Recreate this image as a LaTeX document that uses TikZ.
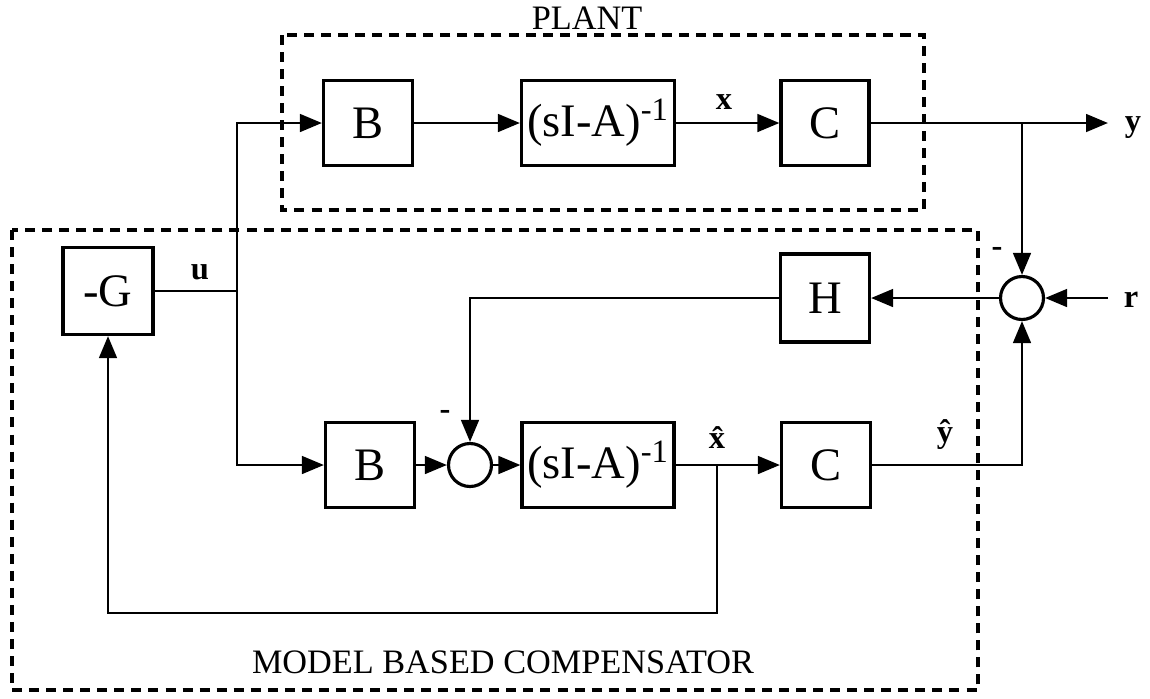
\documentclass[tikz,border=0pt]{standalone}
\usepackage{fontspec}
\setmainfont{Liberation Serif}
\usetikzlibrary{arrows.meta}

\begin{document}
\begin{tikzpicture}[x=0.02cm, y=-0.02cm,
    blk/.style={draw, line width=1.8pt, inner sep=0pt, minimum height=1.7cm,
                font=\fontsize{26.5}{28}\selectfont},
    sumc/.style={circle, draw, line width=1.8pt, inner sep=0pt, minimum size=0.86cm},
    sig/.style={line width=1.6pt},
    arr/.style={sig, -{Triangle[length=12.5pt, width=10pt]}},
    grp/.style={draw, line width=1.9pt, dash pattern=on 5.7pt off 4pt},
    lbl/.style={font=\fontsize{18.5}{20}\selectfont\bfseries, inner sep=0pt},
    ttl/.style={font=\fontsize{19.5}{21}\selectfont, inner sep=0pt}]
  \useasboundingbox (0,0) rectangle (1150,698);

  %% ── Group frames ─────────────────────────────────────────
  \draw[grp] (282,35) rectangle (924,210);
  \draw[grp] (12,230) rectangle (978,690);
  \node[ttl] (plant) at (587,18) {PLANT};
  \node[ttl] (mbc) at (503,662) {MODEL BASED COMPENSATOR};

  %% ── Plant blocks ─────────────────────────────────────────
  \node[blk, minimum width=1.78cm] (B1) at (368,123) {B};
  \node[blk, minimum width=3.06cm] (A1) at (598,123) {(sI-A)\textsuperscript{-1}};
  \node[blk, minimum width=1.76cm] (C1) at (825,123) {C};

  %% ── Compensator blocks ───────────────────────────────────
  \node[blk, minimum width=1.8cm, minimum height=1.74cm] (G) at (108,291) {-G};
  \node[blk, minimum width=1.78cm, minimum height=1.76cm] (H) at (825,298) {H};
  \node[blk, minimum width=1.78cm] (B2) at (370,465) {B};
  \node[sumc] (S2) at (470,465) {};
  \node[blk, minimum width=3.04cm] (A2) at (598,465) {(sI-A)\textsuperscript{-1}};
  \node[blk, minimum width=1.78cm] (C2) at (826,465) {C};
  \node[sumc] (S1) at (1022,298) {};

  %% ── Branch points and free ends ──────────────────────────
  \coordinate (uj) at (237,291);
  \coordinate (yb) at (1022,123);
  \coordinate (yout) at (1108,123);
  \coordinate (rin) at (1108,298);
  \coordinate (xb) at (717,465);
  \coordinate (fbl) at (108,613);

  %% ── Signal lines ─────────────────────────────────────────
  \draw[sig] (G.east) -- (uj);
  \draw[arr] (uj) |- (B1.west);
  \draw[arr] (uj) |- (B2.west);
  \draw[arr] (B1) -- (A1);
  \draw[arr] (A1) -- (C1);
  \draw[arr] (C1.east) -- (yout);
  \draw[arr] (yb) -- (S1.north);
  \draw[arr] (rin) -- (S1.east);
  \draw[arr] (S1.west) -- (H.east);
  \draw[arr] (H.west) -| (S2.north);
  \draw[arr] (B2) -- (S2);
  \draw[arr] (S2) -- (A2);
  \draw[arr] (A2) -- (C2);
  \draw[arr] (xb) |- (fbl) -- (G.south);
  \draw[arr] (C2.east) -| (S1.south);

  %% ── Signal labels ────────────────────────────────────────
  \node[lbl] (ulbl) at (200,272) {u};
  \node[lbl] (xlbl) at (724,102) {x};
  \node[lbl] (ylbl) at (1133,128) {y};
  \node[lbl] (rlbl) at (1131,300) {r};
  \node[lbl, anchor=base] (xhat) at (717,448) {\^{x}};
  \node[lbl, anchor=base] (yhat) at (945,442) {\^{y}};
  \node[lbl] (m1) at (997,252) {-};
  \node[lbl] (m2) at (445,415) {-};
\end{tikzpicture}
\end{document}
